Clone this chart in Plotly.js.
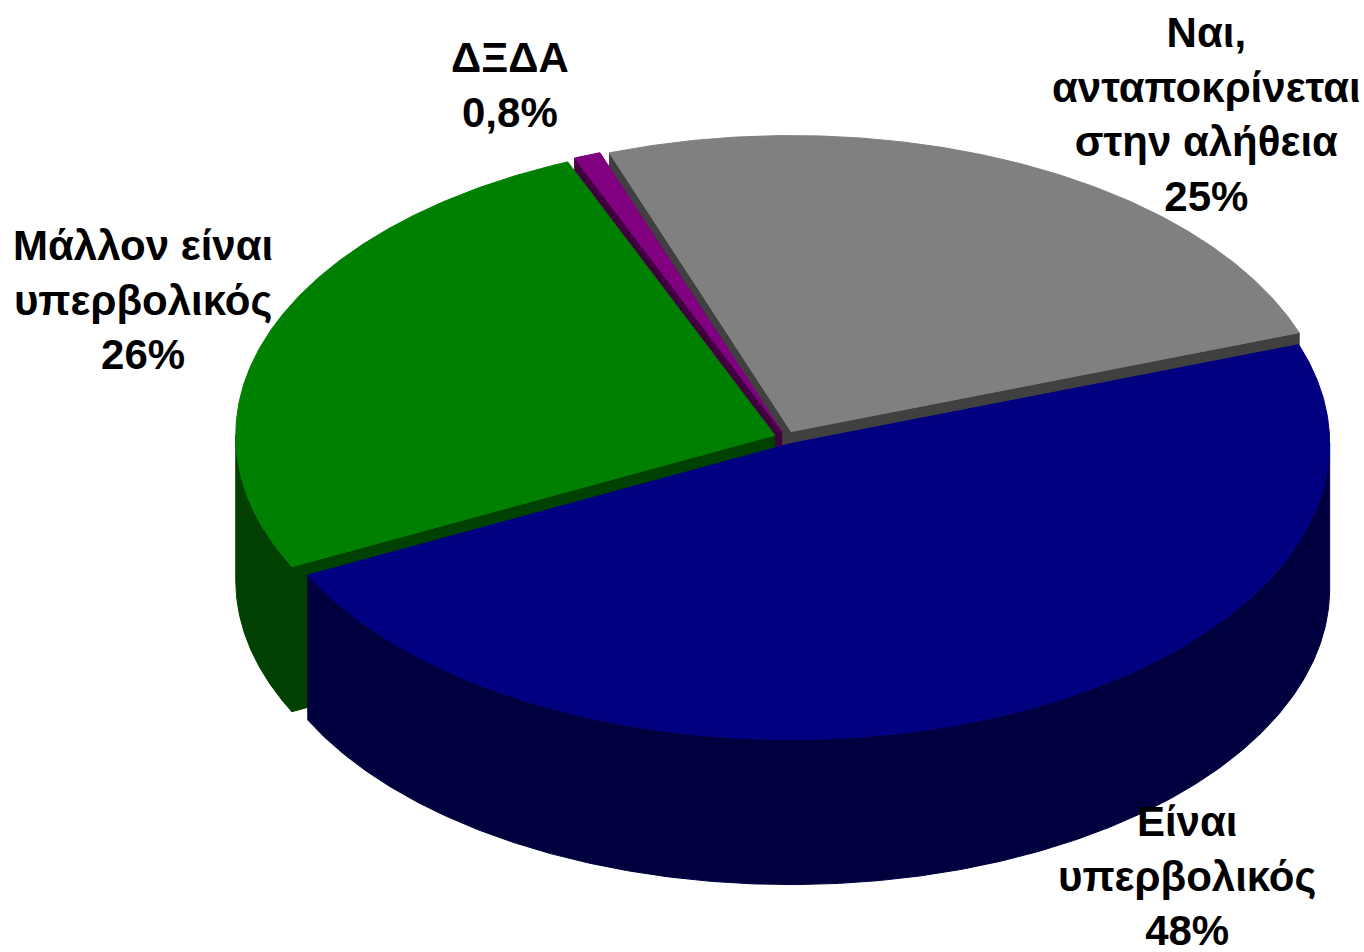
<!DOCTYPE html>
<html>
<head>
<meta charset="utf-8">
<script src="https://cdn.plot.ly/plotly-3.0.1.min.js"></script>
<style>html,body{margin:0;padding:0;background:#fff;}#chart{width:1364px;height:952px;}</style>
</head>
<body>
<div id="chart"></div>
<script>
// ---- data ----
const categories = ['Ναι, ανταποκρίνεται στην αλήθεια', 'Είναι υπερβολικός', 'Μάλλον είναι υπερβολικός', 'ΔΞΔΑ'];
const labelLines = [['Ναι,', 'ανταποκρίνεται', 'στην αλήθεια'], ['Είναι', 'υπερβολικός'], ['Μάλλον είναι', 'υπερβολικός'], ['ΔΞΔΑ']];
const values = [25, 48, 26, 0.8];

// ---- styles ----
const topColors = ['#808080', '#000080', '#008000', '#800080'];
const sideColors = ['#404040', '#00003f', '#004000', '#400040'];
const labelPos = [[1206, 114], [1187, 876], [143, 300], [510, 85]];

// ---- 3D pie geometry (layout) ----
const W = 1364, H = 952;
const cx = 786, cy = 437.5, rx = 539, ry = 296, depth = 145, explode = 12, startAngle = 340.3;
const drawOrder = [0, 3, 2, 1];

const total = values.reduce((a, b) => a + b, 0);
const rad = d => d * Math.PI / 180;
const slices = [];
let acc = startAngle;
values.forEach((v, i) => {
  const span = v / total * 360;
  const a = acc, b = acc + span;
  const mid = (a + b) / 2;
  slices.push({i, a, b, ox: explode * Math.sin(rad(mid)), oy: -explode * (ry / rx) * Math.cos(rad(mid))});
  acc = b;
});

function P(s, th, r, dz) {
  return [cx + s.ox + r * rx * Math.sin(rad(th)), cy + s.oy - r * ry * Math.cos(rad(th)) + dz];
}
function arc(s, a, b, dz) {
  const pts = [];
  const n = Math.max(2, Math.ceil(Math.abs(b - a) / 0.5));
  for (let k = 0; k <= n; k++) pts.push(P(s, a + (b - a) * k / n, 1, dz));
  return pts;
}
function poly(pts, fill, line) {
  return {
    type: 'scatter', mode: 'lines', fill: 'toself', fillcolor: fill,
    x: pts.map(p => p[0]), y: pts.map(p => p[1]),
    line: {color: line, width: 1}, hoverinfo: 'skip', showlegend: false
  };
}

const traces = [];
drawOrder.forEach(idx => {
  const s = slices[idx];
  const side = sideColors[idx], top = topColors[idx];
  // radial walls
  if (Math.sin(rad(s.a)) < 0) {
    traces.push(poly([P(s, s.a, 0, 0), P(s, s.a, 1, 0), P(s, s.a, 1, depth), P(s, s.a, 0, depth), P(s, s.a, 0, 0)], side, side));
  }
  if (Math.sin(rad(s.b)) > 0) {
    traces.push(poly([P(s, s.b, 0, 0), P(s, s.b, 1, 0), P(s, s.b, 1, depth), P(s, s.b, 0, depth), P(s, s.b, 0, 0)], side, side));
  }
  // outer curved wall (front half only)
  [[90, 270], [450, 630], [-270, -90]].forEach(([lo, hi]) => {
    const u = Math.max(lo, s.a), w = Math.min(hi, s.b);
    if (w > u) {
      const pts = arc(s, u, w, 0).concat(arc(s, w, u, depth));
      pts.push(pts[0]);
      traces.push(poly(pts, side, side));
    }
  });
  // top face
  const tp = [P(s, 0, 0, 0)].concat(arc(s, s.a, s.b, 0));
  tp.push(tp[0]);
  traces.push(poly(tp, top, top));
});

const pctText = v => String(v).replace('.', ',') + '%';
const annotations = values.map((v, i) => ({
  x: labelPos[i][0], y: labelPos[i][1], xref: 'x', yref: 'y',
  xanchor: 'center', yanchor: 'middle', showarrow: false,
  text: labelLines[i].concat([pctText(v)]).join('<br>'),
  font: {family: 'Liberation Sans, Arial, sans-serif', size: 42, color: '#000', weight: 'bold'},
  align: 'center'
}));

const layout = {
  width: W, height: H,
  margin: {l: 0, r: 0, t: 0, b: 0},
  paper_bgcolor: '#ffffff', plot_bgcolor: '#ffffff',
  xaxis: {range: [0, W], visible: false, fixedrange: true},
  yaxis: {range: [H, 0], visible: false, fixedrange: true},
  showlegend: false, hovermode: false,
  annotations
};
Plotly.newPlot('chart', traces, layout, {displayModeBar: false, staticPlot: true});
</script>
</body>
</html>
